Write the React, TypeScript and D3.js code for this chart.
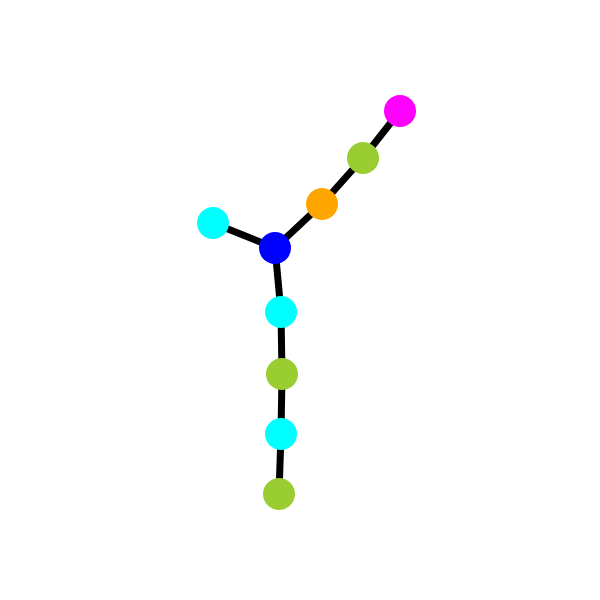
import React from 'react';
import * as d3 from 'd3';

// node positions (in chart units) and colours
const nodeX = [400, 363, 322, 275, 213, 281, 282, 281, 279];
const nodeY = [111, 158, 204, 248, 223, 312, 374, 434, 494];
const nodeColors = ['magenta', 'yellowgreen', 'orange', 'blue', 'cyan', 'cyan', 'yellowgreen', 'cyan', 'yellowgreen'];
const linkSource = [0, 1, 2, 4, 3, 5, 6, 7];
const linkTarget = [1, 2, 3, 3, 5, 6, 7, 8];

const width = 600;
const height = 600;

const App: React.FC = () => {
  const x = d3.scaleLinear().domain([0, 600]).range([0, width]);
  const y = d3.scaleLinear().domain([0, 600]).range([0, height]);

  return (
    <svg width={width} height={height} style={{ position: 'absolute', left: 0, top: 0, background: '#fff' }}>
      <g>
        {linkSource.map((s, i) => (
          <line
            key={i}
            x1={x(nodeX[s])}
            y1={y(nodeY[s])}
            x2={x(nodeX[linkTarget[i]])}
            y2={y(nodeY[linkTarget[i]])}
            stroke="#000"
            strokeWidth={7}
          />
        ))}
      </g>
      <g>
        {nodeX.map((nx, i) => (
          <circle key={i} cx={x(nx)} cy={y(nodeY[i])} r={16} fill={nodeColors[i]} />
        ))}
      </g>
    </svg>
  );
};

export default App;
